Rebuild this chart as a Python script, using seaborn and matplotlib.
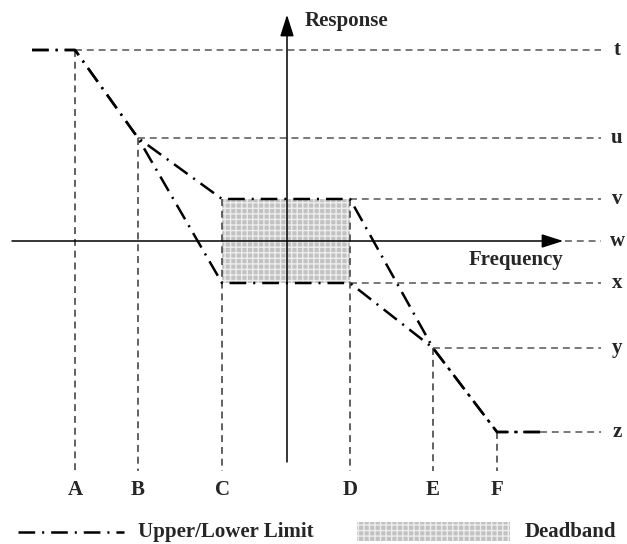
import matplotlib
matplotlib.use("Agg")
import matplotlib.pyplot as plt
import seaborn as sns
import pandas as pd
import numpy as np

# ---- data (diagram units, origin at the axes crossing) ----
freq_labels = ["A", "B", "C", "D", "E", "F"]
freq_pos = [-212, -149, -65, 63, 146, 210]
resp_labels = ["t", "u", "v", "w", "x", "y", "z"]
resp_pos = [191, 103, 42, 0, -42, -107, -191]
curve_start = -255
curve_end = 253

# upper / lower limit curves (frequency, response)
upper_x = [curve_start, -212, -149, -65, 63, 146, 210, curve_end]
upper_y = [191, 191, 103, 42, 42, -107, -191, -191]
lower_x = [curve_start, -212, -149, -65, 63, 146, 210, curve_end]
lower_y = [191, 191, 103, -42, -42, -107, -191, -191]

sns.set_theme(style="white")
plt.rcParams["font.family"] = ["Liberation Serif", "DejaVu Serif"]
plt.rcParams["lines.scale_dashes"] = False

fig = plt.figure(figsize=(6.27, 5.44), dpi=100)
ax = fig.add_axes([0, 0, 1, 1])

grey = "#555555"
dash = (0, (5, 3.5))
fs = 15
fill_c = "#c2c2c2"
hatch_c = "#ededed"

# deadband fill
C, D = freq_pos[2], freq_pos[3]
v, xl = resp_pos[2], resp_pos[4]
ax.fill_between([C, D], [xl, xl], [v, v], facecolor=fill_c, edgecolor=hatch_c,
                hatch="+++", linewidth=0, zorder=1)

# horizontal reference lines (dashed grey) from the point to the right label
h_starts = [freq_pos[0], freq_pos[1], D, 278, D, freq_pos[4], curve_end]
for y0, xs in zip(resp_pos, h_starts):
    ax.plot([xs, 314], [y0, y0], color=grey, lw=1.1, ls=dash, zorder=2)
for lab, y0 in zip(resp_labels, resp_pos):
    ax.text(330, y0, lab, fontsize=fs, fontweight="bold", ha="center", va="center")

# vertical reference lines
v_tops = [resp_pos[0], resp_pos[1], v, v, resp_pos[5], resp_pos[6]]
for xp, yt in zip(freq_pos, v_tops):
    ax.plot([xp, xp], [yt, -230], color=grey, lw=1.3, ls=dash, zorder=2)
for lab, xp in zip(freq_labels, freq_pos):
    ax.text(xp, -249, lab, fontsize=fs, fontweight="bold", ha="center", va="center")

# axes with arrows
ax.plot([-275, 265], [0, 0], color="black", lw=1.1, zorder=3)
ax.annotate("", xy=(279, 0), xytext=(258, 0),
            arrowprops=dict(arrowstyle="-|>,head_length=1.1,head_width=0.35", color="black", lw=1.1))
ax.plot([0, 0], [-221, 215], color="black", lw=1.1, zorder=3)
ax.annotate("", xy=(0, 229), xytext=(0, 210),
            arrowprops=dict(arrowstyle="-|>,head_length=1.1,head_width=0.35", color="black", lw=1.1))
ax.text(18, 220, "Response", fontsize=fs, fontweight="bold", ha="left", va="center")
ax.text(229, -19, "Frequency", fontsize=fs, fontweight="bold", ha="center", va="center")

# limit curves via seaborn
df = pd.DataFrame({
    "freq": upper_x + lower_x,
    "resp": upper_y + lower_y,
    "curve": ["upper"] * len(upper_x) + ["lower"] * len(lower_x),
})
dd = (0, (12, 5, 1.5, 5))
n_before = len(ax.lines)
for name, g in df.groupby("curve"):
    sns.lineplot(data=g, x="freq", y="resp", sort=False, estimator=None, ax=ax,
                 color="black", lw=1.8, legend=False, zorder=4)
for ln in ax.lines[n_before:]:
    ln.set_linestyle(dd)

# legend
ax.plot([-269, -163], [-291, -291], color="black", lw=1.8, ls=dd)
ax.text(-149, -291, "Upper/Lower Limit", fontsize=fs, fontweight="bold", ha="left", va="center")
ax.fill_between([70, 223], [-281, -281], [-300, -300], facecolor=fill_c, edgecolor=hatch_c,
                hatch="+++", linewidth=0)
ax.text(238, -291, "Deadband", fontsize=fs, fontweight="bold", ha="left", va="center")

ax.set_xlim(-287, 340)
ax.set_ylim(-303, 241)
ax.axis("off")

fig.savefig("out.png", dpi=100)
